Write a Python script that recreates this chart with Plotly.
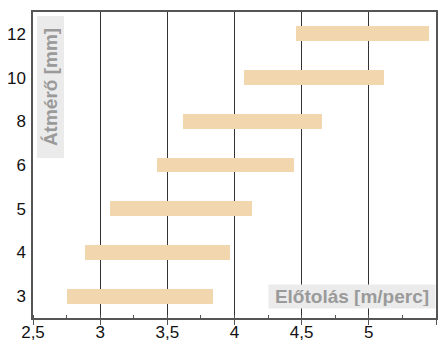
import plotly.graph_objects as go

diameters = ["3", "4", "5", "6", "8", "10", "12"]
feed_min = [2.75, 2.89, 3.07, 3.42, 3.62, 4.07, 4.46]
feed_max = [3.84, 3.97, 4.13, 4.44, 4.65, 5.11, 5.45]
x_ticks = [2.5, 3, 3.5, 4, 4.5, 5, 5.5]
x_tick_labels = ["2,5", "3", "3,5", "4", "4,5", "5", "5,5"]

fig = go.Figure()
fig.add_trace(go.Bar(
    y=diameters,
    x=[b - a for a, b in zip(feed_min, feed_max)],
    base=feed_min,
    orientation="h",
    width=0.34,
    marker=dict(color="#F1D6AE", line=dict(width=0)),
    hoverinfo="skip",
))

# page body has an 8px margin, so the figure is sized/offset to compensate
fig.update_layout(
    width=438, height=335,
    margin=dict(l=25, r=10, t=4, b=25, autoexpand=False),
    paper_bgcolor="white", plot_bgcolor="white",
    showlegend=False,
    font=dict(family="Liberation Sans, Arial, sans-serif", size=18, color="#111"),
    bargap=0,
)
fig.update_xaxes(
    range=[2.5, 5.5], automargin=False,
    tickvals=x_ticks, ticktext=x_tick_labels,
    tickfont=dict(size=17),
    showgrid=True, gridcolor="#333", gridwidth=1.2,
    showline=True, linecolor="#555", linewidth=1.5, mirror=True,
    ticks="outside", ticklen=5, tickcolor="#555",
    ticklabelstandoff=-7,
    minor=dict(dtick=0.25, tick0=2.5, ticks="inside", ticklen=3, tickcolor="#555", showgrid=False),
    zeroline=False,
)
fig.update_yaxes(
    type="category", automargin=False,
    categoryorder="array", categoryarray=diameters,
    range=[-0.5, 6.5],
    tickfont=dict(size=17),
    showgrid=False,
    showline=True, linecolor="#555", linewidth=1.5, mirror=True,
    ticks="", ticklabelstandoff=2,
    zeroline=False,
)

fig.add_annotation(
    xref="paper", yref="paper", x=0.0447, y=0.987,
    xanchor="center", yanchor="top",
    text="<b>Átmérő [mm]</b>", textangle=-90, showarrow=False,
    font=dict(family="Liberation Sans, Arial, sans-serif", size=19, color="#9a9a9a"),
    bgcolor="#ebebeb", borderpad=2, width=137, height=22,
)
fig.add_annotation(
    xref="paper", yref="paper", x=1.0, y=0.029,
    xanchor="right", yanchor="bottom",
    text="<b>Előtolás [m/perc]</b>", showarrow=False,
    font=dict(family="Liberation Sans, Arial, sans-serif", size=19, color="#9a9a9a"),
    bgcolor="#ebebeb", borderpad=2, width=162, height=19,
)

fig.write_html("out.html")
